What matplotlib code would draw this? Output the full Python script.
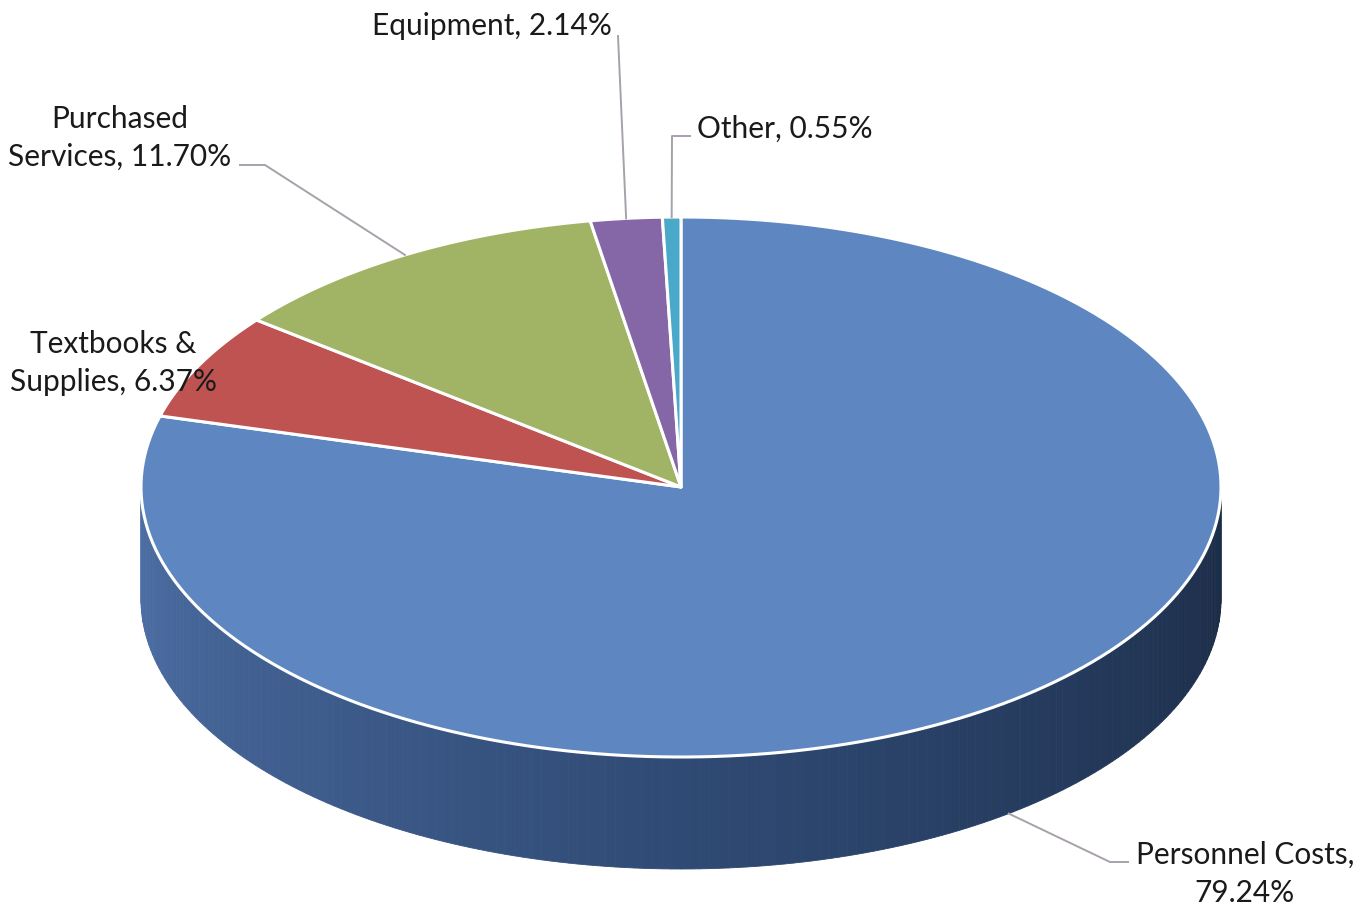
import numpy as np
import matplotlib.pyplot as plt
from matplotlib.patches import Polygon
from matplotlib.colors import to_rgb

plt.rcParams['font.family'] = ['Lato', 'DejaVu Sans']

# data
labels = ['Personnel Costs', 'Textbooks & Supplies', 'Purchased Services', 'Equipment', 'Other']
shares = [79.24, 6.37, 11.70, 2.14, 0.55]
label_text = ['Personnel Costs,\n79.24%', 'Textbooks &\nSupplies, 6.37%',
              'Purchased\nServices, 11.70%', 'Equipment, 2.14%', 'Other, 0.55%']
colors = ['#5e87c2', '#bf5352', '#a1b465', '#8567a8', '#4aa8c9']

# pie geometry (pixels)
cx, cy, rx, ry, depth = 681, 487, 540, 270, 112


def ell(theta, dy=0.0):
    t = np.radians(theta)
    return cx + rx * np.sin(t), cy - ry * np.cos(t) + dy


fig = plt.figure(figsize=(13.71, 9.13), dpi=100)
ax = fig.add_axes([0, 0, 1, 1])
ax.set_xlim(0, 1371)
ax.set_ylim(913, 0)
ax.axis('off')

bounds = np.concatenate([[0], np.cumsum(shares)]) / 100 * 360

# side wall, only the front half (90..270 deg) is seen
side_dark = np.array(to_rgb('#1b2b45'))
side_mid = np.array(to_rgb('#2f4a74'))
side_light = np.array(to_rgb('#4e70a6'))
for i in range(len(shares)):
    a0, a1 = max(bounds[i], 90), min(bounds[i + 1], 270)
    if a1 <= a0:
        continue
    steps = np.linspace(a0, a1, 181)
    for s0, s1 in zip(steps[:-1], steps[1:]):
        f = ((s0 + s1) / 2 - 90) / 180
        if f < 0.5:
            c = side_dark + (side_mid - side_dark) * (f / 0.5)
        else:
            c = side_mid + (side_light - side_mid) * ((f - 0.5) / 0.5)
        x0, y0 = ell(s0)
        x1, y1 = ell(s1)
        x2, y2 = ell(s1, depth)
        x3, y3 = ell(s0, depth)
        ax.add_patch(Polygon([[x0, y0], [x1, y1], [x2, y2], [x3, y3]],
                             closed=True, facecolor=c, edgecolor=c, lw=0.6))

# top faces
for i in range(len(shares)):
    th = np.linspace(bounds[i], bounds[i + 1], 200)
    xs, ys = ell(th)
    pts = np.column_stack([np.r_[cx, xs], np.r_[cy, ys]])
    ax.add_patch(Polygon(pts, closed=True, facecolor=colors[i],
                         edgecolor='white', lw=2.2, joinstyle='round'))

# labels and leader lines
lead = '#a8a0aa'
txt = dict(fontsize=21.5, color='#1a1a1a', ha='center', va='center', linespacing=1.42)
mids = (bounds[:-1] + bounds[1:]) / 2

# Personnel Costs
px, py = ell(mids[0], depth)
ax.plot([px, 1110, 1128], [py, 862, 862], color=lead, lw=1.4)
ax.text(1245, 874, label_text[0], **txt)

# Textbooks & Supplies
ax.text(113, 363, label_text[1], **txt)

# Purchased Services
px, py = ell(mids[2])
ax.plot([px, 265, 240], [py, 165, 165], color=lead, lw=1.4)
ax.text(120, 138, label_text[2], **txt)

# Equipment
px, py = ell(mids[3])
ax.plot([px, 618], [py, 36], color=lead, lw=1.4)
ax.text(492, 26, label_text[3], **txt)

# Other
px, py = ell(mids[4])
ax.plot([px, 672, 690], [py, 136, 136], color=lead, lw=1.4)
ax.text(697, 129, label_text[4], **dict(txt, ha='left'))

plt.savefig('out.png', dpi=100)
